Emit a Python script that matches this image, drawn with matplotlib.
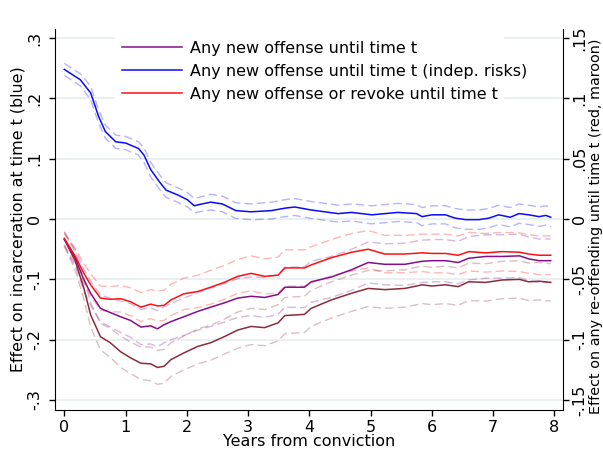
import numpy as np
import matplotlib
matplotlib.use("Agg")
import matplotlib.pyplot as plt
from matplotlib.patches import Rectangle

# --- data --------------------------------------------------------------
# blue: effect on incarceration (left axis)
T_BLUE = [0, 0.26, 0.43, 0.56, 0.67, 0.84, 1.0, 1.21, 1.3, 1.41,
          1.55, 1.66, 1.85, 2.01, 2.12, 2.2, 2.39, 2.58, 2.8, 3.05,
          3.38, 3.6, 3.76, 4.03, 4.25, 4.47, 4.69, 5.02, 5.23, 5.45,
          5.75, 5.84, 6.0, 6.22, 6.38, 6.55, 6.77, 6.93, 7.09, 7.28,
          7.42, 7.58, 7.75, 7.86, 7.94]
BLUE = [0.248, 0.231, 0.209, 0.170, 0.145, 0.128, 0.126, 0.117, 0.106, 0.082,
        0.062, 0.048, 0.040, 0.032, 0.022, 0.024, 0.028, 0.025, 0.014, 0.012,
        0.014, 0.018, 0.020, 0.015, 0.012, 0.009, 0.011, 0.007, 0.009, 0.011,
        0.009, 0.004, 0.007, 0.007, 0.0015, -0.001, -0.001, 0.0015, 0.007, 0.003,
        0.009, 0.007, 0.004, 0.006, 0.003]
BLUE_CI = [0.010, 0.010, 0.011, 0.011, 0.011, 0.011, 0.011, 0.011, 0.012, 0.012,
           0.012, 0.012, 0.012, 0.012, 0.012, 0.012, 0.013, 0.013, 0.013, 0.013,
           0.014, 0.014, 0.014, 0.014, 0.014, 0.014, 0.014, 0.015, 0.015, 0.015,
           0.015, 0.015, 0.015, 0.015, 0.016, 0.016, 0.016, 0.016, 0.016, 0.016,
           0.016, 0.016, 0.016, 0.016, 0.016]

# red / purple / maroon: effect on re-offending (right axis)
T_LOW = [0, 0.18, 0.32, 0.43, 0.59, 0.75, 0.92, 1.08, 1.25, 1.41,
         1.52, 1.63, 1.74, 1.95, 2.18, 2.39, 2.61, 2.83, 3.05, 3.27,
         3.49, 3.6, 3.92, 4.03, 4.36, 4.69, 4.96, 5.23, 5.56, 5.84,
         6.0, 6.22, 6.43, 6.6, 6.88, 7.15, 7.43, 7.58, 7.75, 7.94]
RED = [-0.016, -0.031, -0.045, -0.0545, -0.0655, -0.0665, -0.066, -0.0685, -0.073, -0.0705,
       -0.072, -0.0715, -0.067, -0.062, -0.060, -0.0565, -0.0525, -0.0475, -0.045, -0.0475,
       -0.0465, -0.0405, -0.0405, -0.038, -0.032, -0.0275, -0.025, -0.029, -0.029, -0.028,
       -0.0285, -0.0285, -0.030, -0.027, -0.028, -0.027, -0.0275, -0.029, -0.030, -0.030]
PURPLE = [-0.017, -0.0325, -0.0505, -0.0615, -0.074, -0.0775, -0.081, -0.084, -0.0895, -0.0885,
          -0.091, -0.0875, -0.085, -0.081, -0.0765, -0.073, -0.0695, -0.0655, -0.064, -0.065,
          -0.0625, -0.0565, -0.0565, -0.052, -0.048, -0.042, -0.036, -0.0375, -0.0375, -0.035,
          -0.0345, -0.0345, -0.036, -0.0325, -0.031, -0.031, -0.0305, -0.033, -0.0345, -0.0345]
MAROON = [-0.0165, -0.035, -0.0575, -0.0795, -0.0975, -0.1025, -0.110, -0.115, -0.1195, -0.120,
          -0.123, -0.122, -0.1165, -0.111, -0.1055, -0.1025, -0.0975, -0.092, -0.089, -0.090,
          -0.086, -0.080, -0.079, -0.074, -0.067, -0.0615, -0.0575, -0.0585, -0.0575, -0.0545,
          -0.0555, -0.0545, -0.056, -0.052, -0.0525, -0.0505, -0.050, -0.052, -0.0515, -0.0525]
RED_CI = [0.005, 0.0065, 0.008, 0.009, 0.010, 0.0105, 0.011, 0.0115, 0.012, 0.012,
          0.0125, 0.0125, 0.013, 0.013, 0.0135, 0.014, 0.014, 0.014, 0.0145, 0.0145,
          0.015, 0.015, 0.015, 0.015, 0.015, 0.0155, 0.0155, 0.0155, 0.0155, 0.0155,
          0.016, 0.016, 0.016, 0.016, 0.016, 0.016, 0.016, 0.016, 0.016, 0.016]
PURPLE_CI = [0.005, 0.007, 0.009, 0.010, 0.011, 0.012, 0.013, 0.014, 0.0145, 0.015,
             0.015, 0.015, 0.015, 0.0155, 0.0155, 0.016, 0.016, 0.016, 0.016, 0.0165,
             0.0165, 0.0165, 0.017, 0.017, 0.017, 0.017, 0.017, 0.017, 0.0175, 0.0175,
             0.0175, 0.0175, 0.0175, 0.018, 0.018, 0.018, 0.018, 0.018, 0.018, 0.018]
MAROON_CI = [0.006, 0.0075, 0.009, 0.010, 0.011, 0.012, 0.013, 0.013, 0.0135, 0.014,
             0.014, 0.014, 0.014, 0.014, 0.0145, 0.0145, 0.0145, 0.015, 0.015, 0.015,
             0.015, 0.015, 0.015, 0.015, 0.015, 0.015, 0.015, 0.0155, 0.0155, 0.0155,
             0.0155, 0.0155, 0.0155, 0.0155, 0.0155, 0.0155, 0.0155, 0.0155, 0.0155, 0.0155]

LEFT_TICKS = [-0.3, -0.2, -0.1, 0, 0.1, 0.2, 0.3]
LEFT_LABELS = ["-.3", "-.2", "-.1", "0", ".1", ".2", ".3"]
RIGHT_TICKS = [-0.15, -0.1, -0.05, 0, 0.05, 0.1, 0.15]
RIGHT_LABELS = ["-.15", "-.1", "-.05", "0", ".05", ".1", ".15"]
X_TICKS = [0, 1, 2, 3, 4, 5, 6, 7, 8]
LEGEND_LABELS = ["Any new offense until time t",
                 "Any new offense until time t (indep. risks)",
                 "Any new offense or revoke until time t"]

C_BLUE = "#0a0aff"
C_RED = "#ff1010"
C_PURPLE = "#850f8a"
C_MAROON = "#8a2c3a"

fig = plt.figure(figsize=(6.03, 4.51), dpi=100)
# axes box: x 55..563 px, y 29..410 px
ax = fig.add_axes([55 / 603, 41 / 451, 508 / 603, 381 / 451])
ax2 = ax.twinx()

ylim = (-0.3165, 0.315)
ax.set_ylim(*ylim)
ax2.set_ylim(ylim[0] / 2, ylim[1] / 2)
ax.set_xlim(-0.152, 8.14)

dash = (0, (6, 3))


def band(a, t, y, ci, color, alpha):
    y = np.asarray(y)
    ci = np.asarray(ci)
    for s in (1, -1):
        a.plot(t, y + s * ci, color=color, alpha=alpha, lw=1.0, linestyle=dash)


band(ax, T_BLUE, BLUE, BLUE_CI, C_BLUE, 0.3)
band(ax2, T_LOW, RED, RED_CI, C_RED, 0.3)
band(ax2, T_LOW, PURPLE, PURPLE_CI, C_PURPLE, 0.3)
band(ax2, T_LOW, MAROON, MAROON_CI, C_MAROON, 0.3)

ax2.plot(T_LOW, MAROON, color=C_MAROON, lw=1.1)
h_purple, = ax2.plot(T_LOW, PURPLE, color=C_PURPLE, lw=1.1)
h_red, = ax2.plot(T_LOW, RED, color=C_RED, lw=1.1)
h_blue, = ax.plot(T_BLUE, BLUE, color=C_BLUE, lw=1.1)

# axes styling
ax.set_yticks(LEFT_TICKS)
ax.set_yticklabels(LEFT_LABELS, rotation=90, va="center", fontsize=11.5)
ax2.set_yticks(RIGHT_TICKS)
ax2.set_yticklabels(RIGHT_LABELS, rotation=90, va="center", fontsize=11.5)
ax.set_xticks(X_TICKS)
ax.tick_params(axis="x", labelsize=11.5, length=4.5, width=1, pad=2.5)
ax.tick_params(axis="y", length=4.5, width=1, pad=4.5)
ax2.tick_params(axis="y", length=4.5, width=1, pad=2)
ax.grid(axis="y", color="#e8eff1", lw=1.3)
ax.set_axisbelow(True)

for a in (ax, ax2):
    a.spines["top"].set_visible(False)
ax.spines["right"].set_visible(False)
ax2.spines["left"].set_visible(False)
ax2.spines["bottom"].set_visible(False)

ax.set_xlabel("Years from conviction", fontsize=11.5)
ax.xaxis.set_label_coords(0.5, -0.063)
ax.set_ylabel("Effect on incarceration at time t (blue)", fontsize=11.4)
ax.yaxis.set_label_coords(-0.059, 0.5)
ax2.set_ylabel("Effect on any re-offending until time t (red, maroon)",
               fontsize=10.4)
ax2.yaxis.set_label_coords(1.051, 0.483)

# white patch behind the legend, hiding the gridlines there
ax.add_patch(Rectangle((60 / 508, (410 - 102) / 381), (504 - 115) / 508, 72 / 381,
                       transform=ax.transAxes, facecolor="white",
                       edgecolor="none", zorder=1))

ax2.legend([h_purple, h_blue, h_red], LEGEND_LABELS,
           loc="upper left", bbox_to_anchor=(67 / 508, (410 - 41) / 381),
           fontsize=11.5, frameon=False, handlelength=3.75,
           handletextpad=0.5, labelspacing=0.5, borderpad=0,
           borderaxespad=0)

fig.savefig("out.png", dpi=100)
